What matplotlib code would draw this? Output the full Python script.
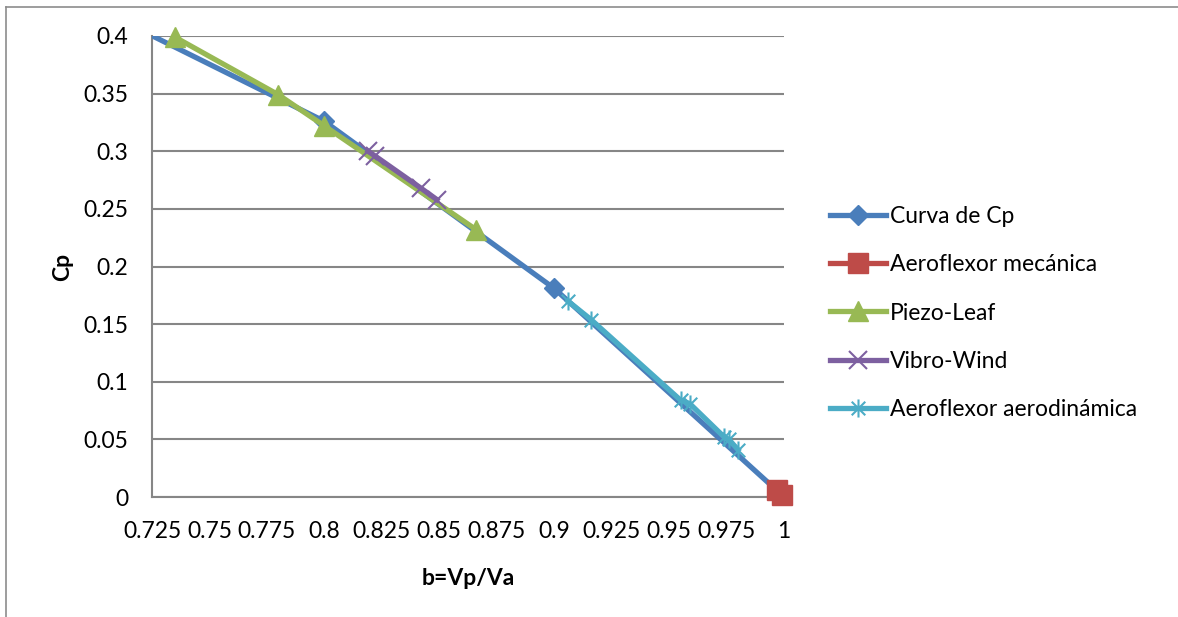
import numpy as np
import matplotlib
matplotlib.use('Agg')
import matplotlib.pyplot as plt
from matplotlib.path import Path
from matplotlib.lines import Line2D

plt.rcParams['font.family'] = ['Lato', 'DejaVu Sans']

# data
curva_x = [0.7, 0.8, 0.9, 1.0]
curva_y = [0.425, 0.326, 0.181, 0.0]

mecanica_x = [0.997, 0.999]
mecanica_y = [0.006, 0.002]

piezo_x = [0.735, 0.78, 0.8, 0.866]
piezo_y = [0.399, 0.349, 0.322, 0.232]

vibro_x = [0.819, 0.822, 0.842, 0.849]
vibro_y = [0.300, 0.296, 0.268, 0.258]

aero_x = [0.906, 0.916, 0.955, 0.959, 0.974, 0.976, 0.980]
aero_y = [0.170, 0.154, 0.084, 0.081, 0.052, 0.050, 0.041]

xticks = [0.725, 0.75, 0.775, 0.8, 0.825, 0.85, 0.875, 0.9, 0.925, 0.95, 0.975, 1.0]
xlabels = ['0.725', '0.75', '0.775', '0.8', '0.825', '0.85', '0.875', '0.9', '0.925', '0.95', '0.975', '1']
yticks = [0, 0.05, 0.1, 0.15, 0.2, 0.25, 0.3, 0.35, 0.4]
ylabels = ['0', '0.05', '0.1', '0.15', '0.2', '0.25', '0.3', '0.35', '0.4']

# excel style star: vertical bar plus an X
star = Path([(0, -1), (0, 1), (-0.75, -0.75), (0.75, 0.75), (-0.75, 0.75), (0.75, -0.75)],
            [Path.MOVETO, Path.LINETO] * 3)

fs = 16.5

fig = plt.figure(figsize=(11.78, 6.17), dpi=100)
ax = fig.add_axes([152 / 1178, 1 - 497 / 617, 632 / 1178, 461 / 617])

lw = 3.8
ax.plot(curva_x, curva_y, color='#4a7ebb', lw=lw, marker='D', ms=10, label='Curva de Cp', zorder=3)
ax.plot(mecanica_x, mecanica_y, color='#be4b48', lw=lw, marker='s', ms=15, label='Aeroflexor mecánica',
        zorder=4, clip_on=False)
ax.plot(piezo_x, piezo_y, color='#98b954', lw=lw, marker='^', ms=14, label='Piezo-Leaf', zorder=4, clip_on=False)
ax.plot(vibro_x, vibro_y, color='#7d60a0', lw=lw, marker='x', ms=13, mew=1.5, label='Vibro-Wind', zorder=5)
ax.plot(aero_x, aero_y, color='#4bacc6', lw=lw, marker=star, ms=13, mew=1.5, label='Aeroflexor aerodinámica', zorder=5)

ax.set_xlim(0.725, 1.0)
ax.set_ylim(0, 0.4)
ax.set_xticks(xticks)
ax.set_xticklabels(xlabels)
ax.set_yticks(yticks)
ax.set_yticklabels(ylabels)
ax.tick_params(length=0, labelsize=fs)
ax.tick_params(axis='x', pad=17)
ax.tick_params(axis='y', pad=17)
ax.grid(axis='y', color='#868686', lw=1.5)
ax.set_axisbelow(True)
for s in ['top', 'right']:
    ax.spines[s].set_visible(False)
for s in ['left', 'bottom']:
    ax.spines[s].set_color('#868686')
    ax.spines[s].set_linewidth(1.5)

ax.set_xlabel('b=Vp/Va', fontsize=fs, fontweight='bold', va='center')
ax.xaxis.set_label_coords(0.5, -0.176)
ax.set_ylabel('Cp', fontsize=fs, fontweight='bold', va='center')
ax.yaxis.set_label_coords(-0.142, 0.5)

fig.legend(loc='center left', bbox_to_anchor=(830 / 1178, 1 - 313 / 617), frameon=False,
           fontsize=fs, handlelength=2.45, handletextpad=0.17, labelspacing=1.19,
           borderpad=0, borderaxespad=0)

# chart border (partly outside the picture)
fig.add_artist(Line2D([6 / 1178, 1], [1 - 6.5 / 617] * 2, color='#8c8c8c', lw=1.2))
fig.add_artist(Line2D([6 / 1178] * 2, [0, 1 - 6.5 / 617], color='#8c8c8c', lw=1.2))

fig.savefig('out.png', dpi=100)
